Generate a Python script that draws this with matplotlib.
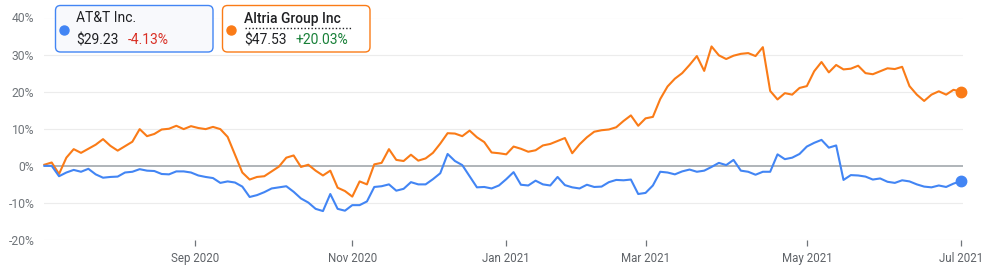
"""
AT&T vs Altria, 1 year % change (Jul 2020 - Jul 2021)
"""

import numpy as np
import pandas as pd
import matplotlib
matplotlib.use("Agg")
import matplotlib.pyplot as plt
from matplotlib.patches import FancyBboxPatch

plt.rcParams['font.family'] = ['Roboto', 'DejaVu Sans']

# Trading calendar of the chart
first_day = "2020-07-06"
last_day = "2021-07-02"
market_holidays = ["2020-09-07", "2020-11-26", "2020-12-25", "2021-01-01",
                   "2021-01-18", "2021-02-15", "2021-04-02", "2021-05-31"]

tick_months = ["2020-09", "2020-11", "2021-01", "2021-03", "2021-05", "2021-07"]
tick_labels = ["Sep 2020", "Nov 2020", "Jan 2021", "Mar 2021", "May 2021", "Jul 2021"]
y_ticks = [-20, -10, 0, 10, 20, 30, 40]

names = ["AT&T Inc.", "Altria Group Inc"]
prices = ["$29.23", "$47.53"]
changes = ["-4.13%", "+20.03%"]

# % change since start, read every second trading session
att = [0, 0, -2.8, -1.8, -1.1, -1.6, -0.8, -2.3, -3.2, -3.0,
       -2.9, -1.8, -1.6, -0.9, -1.3, -1.4, -2.2, -2.3, -1.5, -1.5,
       -1.8, -2.6, -3.0, -3.3, -4.6, -4.2, -4.5, -5.6, -8.4, -7.9,
       -7.1, -6.1, -5.8, -5.5, -7.0, -8.8, -9.9, -11.6, -12.2, -7.6,
       -11.6, -12.1, -10.6, -10.6, -9.6, -5.7, -5.5, -5.0, -6.7, -6.2,
       -4.4, -5.0, -5.0, -3.6, -2.0, 3.2, 1.3, 0.2, -2.8, -5.8,
       -5.7, -6.1, -5.3, -3.6, -1.7, -5.1, -5.3, -4.0, -5.0, -5.3,
       -3.0, -5.2, -5.8, -6.1, -5.1, -5.7, -5.6, -4.4, -3.8, -3.9,
       -3.7, -7.6, -7.3, -5.3, -1.6, -1.8, -2.3, -1.5, -1.0, -1.6,
       -1.3, -0.3, 0.8, 0.2, 1.6, -1.3, -1.6, -2.4, -1.6, -1.6,
       3.1, 1.8, 2.2, 3.2, 5.2, 6.2, 7.0, 4.9, 5.5, -3.8,
       -2.5, -2.6, -2.9, -3.7, -3.4, -4.3, -4.6, -3.9, -4.2, -5.0,
       -5.6, -5.8, -5.3, -5.7, -4.8, -4.13]
altria = [0.3, 0.9, -2.2, 2.2, 4.5, 3.5, 4.6, 5.7, 7.2, 5.4,
          4.1, 5.3, 6.5, 9.9, 8.0, 8.6, 9.8, 10.0, 10.8, 9.9,
          10.7, 10.2, 9.9, 10.5, 9.9, 7.8, 3.0, -1.8, -3.7, -3.0,
          -2.8, -1.5, -0.2, 2.2, 2.8, -0.3, 0.3, -1.3, -2.6, -1.3,
          -5.9, -6.8, -8.3, -4.2, -5.0, 0.4, 0.8, 4.5, 1.6, 1.3,
          3.0, 1.4, 2.0, 3.5, 6.0, 8.8, 8.7, 8.0, 9.5, 7.7,
          6.4, 3.6, 3.4, 3.1, 5.2, 4.6, 3.8, 4.2, 5.5, 5.9,
          6.7, 7.5, 3.4, 5.8, 7.7, 9.2, 9.6, 9.8, 10.4, 12.1,
          13.6, 10.8, 12.8, 13.2, 18.0, 21.4, 23.5, 25.0, 27.2, 29.6,
          25.6, 32.2, 29.8, 28.8, 29.7, 30.2, 30.4, 29.6, 32.0, 20.2,
          17.9, 19.6, 19.2, 21.0, 21.5, 25.5, 28.0, 25.2, 27.2, 26.0,
          26.2, 27.0, 25.0, 24.7, 25.5, 26.3, 26.1, 26.7, 21.5, 19.2,
          17.5, 19.2, 20.1, 19.2, 20.5, 20.03]

BLUE = '#4285f4'
ORANGE = '#fa7b17'


def main():
    sessions = pd.bdate_range(first_day, last_day, freq="C", holidays=market_holidays)
    pos = np.arange(len(sessions))
    sample = pos[::2][:len(att)]

    fig = plt.figure(figsize=(9.92, 2.75), dpi=100)
    ax = fig.add_axes([44 / 992, 1 - 240 / 275, 919 / 992, 222.5 / 275])

    # grid + zero line
    for y in y_ticks:
        if y != 0:
            ax.axhline(y, color='#ececec', lw=0.8, zorder=0)
    ax.axhline(0, color='#9aa0a6', lw=1.1, zorder=1)

    ax.plot(sample, altria, color=ORANGE, lw=1.5, solid_joinstyle='round', clip_on=False, zorder=3)
    ax.plot(sample, att, color=BLUE, lw=1.5, solid_joinstyle='round', clip_on=False, zorder=3)
    ax.plot(sample[-1], altria[-1], 'o', ms=7.5, color=ORANGE, clip_on=False, zorder=4)
    ax.plot(sample[-1], att[-1], 'o', ms=7.5, color=BLUE, clip_on=False, zorder=4)

    ax.set_xlim(-0.1, 250.6)
    ax.set_ylim(-20, 40)

    ax.set_yticks(y_ticks)
    ax.set_yticklabels([f"{v}%" for v in y_ticks])
    ax.tick_params(axis='y', length=0, pad=7, labelsize=8.7, labelcolor='#70757a')

    month_str = sessions.strftime('%Y-%m')
    month_pos = [pos[month_str == m][0] for m in tick_months]
    ax.set_xticks(month_pos)
    ax.set_xticklabels(tick_labels)
    ax.tick_params(axis='x', length=4.5, width=0.9, color='#70757a', pad=4,
                   labelsize=8.3, labelcolor='#5f6368')
    for s in ax.spines.values():
        s.set_visible(False)

    # Legend cards, drawn in pixel coords
    lay = fig.add_axes([0, 0, 1, 1])
    lay.set_xlim(0, 992)
    lay.set_ylim(275, 0)
    lay.axis('off')

    cards = [(55.5, 157.5, BLUE, '#f8f9fc', 76, 128, '#d93025', 'normal'),
             (222.5, 147.5, ORANGE, 'white', 244.5, 296, '#188038', 'medium')]
    for k, (x0, w, col, fc, tx, cx, ccol, wt) in enumerate(cards):
        box = FancyBboxPatch((x0, 5.5), w, 46.5, boxstyle="round,pad=0,rounding_size=5",
                             fc=fc, ec=col, lw=1.0)
        lay.add_patch(box)
        lay.plot(x0 + 8, 29.5, 'o', ms=6.5, color=col)
        lay.text(tx, 18.5, names[k], fontsize=10, color='#202124', va='center', ha='left',
                 fontweight=wt)
        lay.text(tx, 40.5, prices[k], fontsize=10, color='#202124', va='center', ha='left')
        lay.text(cx, 40.5, changes[k], fontsize=10, color=ccol, va='center', ha='left')

    # dotted underline under selected name
    lay.plot([244.5, 352], [27.5, 27.5], color='#202124', lw=1.0, ls=(0, (1, 1.5)))

    fig.savefig('out.png', dpi=100)


if __name__ == "__main__":
    main()
